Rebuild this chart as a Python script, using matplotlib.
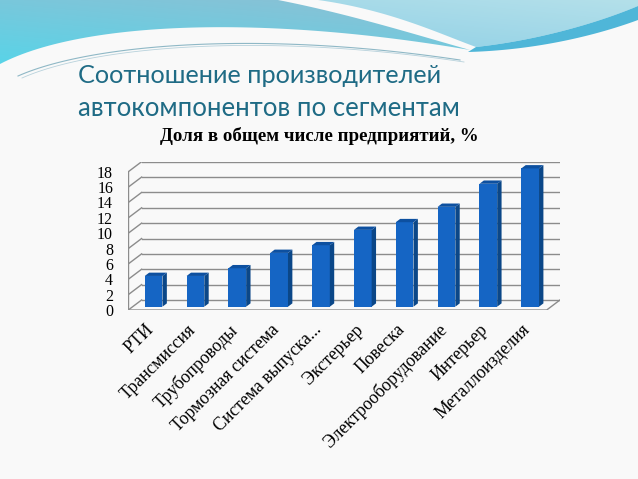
import numpy as np
import matplotlib.pyplot as plt
from matplotlib.patches import Polygon

categories = ['РТИ', 'Трансмиссия', 'Трубопроводы', 'Тормозная система',
              'Система выпуска...', 'Экстерьер', 'Повеска',
              'Электрооборудование', 'Интерьер', 'Металлоизделия']
shares = [4, 4, 5, 7, 8, 10, 11, 13, 16, 18]
yticks = list(range(0, 19, 2))

W, H = 638, 479
fig = plt.figure(figsize=(6.38, 4.79), dpi=100)
fig.patch.set_facecolor('#f9f9f9')


def bez(p0, p1, p2, p3, n=60):
    t = np.linspace(0, 1, n)[:, None]
    p0, p1, p2, p3 = map(np.array, (p0, p1, p2, p3))
    return (1 - t) ** 3 * p0 + 3 * (1 - t) ** 2 * t * p1 + 3 * (1 - t) * t ** 2 * p2 + t ** 3 * p3


def grad_fill(ax, verts, c_top_left, c_bottom, extent):
    poly = Polygon(verts, closed=True, facecolor='none', edgecolor='none')
    ax.add_patch(poly)
    x0, x1, y0, y1 = extent
    gx, gy = np.meshgrid(np.linspace(0, 1, 200), np.linspace(0, 1, 60))
    t = np.clip(0.6 * gy + 0.4 * (1 - gx), 0, 1)[..., None]
    img = (1 - t) * np.array(c_top_left) + t * np.array(c_bottom)
    im = ax.imshow(img, extent=(x0, x1, y1, y0), origin='upper', aspect='auto', zorder=1)
    im.set_clip_path(poly)


def rgb(h):
    h = h.lstrip('#')
    return [int(h[i:i + 2], 16) / 255 for i in (0, 2, 4)]


# slide background decoration
bg = fig.add_axes([0, 0, 1, 1], zorder=0)
bg.set_xlim(0, W)
bg.set_ylim(H, 0)
bg.axis('off')

wave_top = bez((0, 64), (80, 22), (260, 14), (470, 50))
stripe_left = bez((278, 0), (350, 14), (420, 36), (470, 50))
left_verts = np.vstack([[(0, 0)], stripe_left, wave_top[::-1]])
grad_fill(bg, left_verts, rgb('#8fbfd3'), rgb('#58d4e8'), (0, 480, 0, 66))

stripe_right = bez((318, 0), (390, 10), (440, 34), (476, 47))
ribbon_top = bez((476, 47), (540, 40), (600, 22), (638, 6))
right_verts = np.vstack([stripe_right, ribbon_top, [(638, 0)]])
grad_fill(bg, right_verts, rgb('#b4e0ea'), rgb('#8fd0e6'), (300, 638, 0, 52))

ribbon_bot = bez((468, 52), (540, 50), (600, 34), (638, 20))
ribbon = np.vstack([ribbon_top, ribbon_bot[::-1]])
bg.add_patch(Polygon(ribbon, closed=True, facecolor='#4fb6d8', edgecolor='none', zorder=2))
thin = bez((18, 76), (90, 44), (260, 30), (460, 60))
bg.plot(thin[:, 0], thin[:, 1], color='#8fb8c6', lw=0.8, zorder=2)
bg.plot(thin[:, 0] + 4, thin[:, 1] + 2, color='#b8d2dc', lw=0.6, zorder=2)

# slide title
title_color = '#1f6b85'
fig.text(78 / W, 1 - 83 / H, 'Соотношение производителей', fontsize=18.2,
         family='Lato', color=title_color, va='baseline')
fig.text(78 / W, 1 - 116 / H, 'автокомпонентов по сегментам', fontsize=18.5,
         family='Lato', color=title_color, va='baseline')
fig.text(319 / W, 1 - 136 / H, 'Доля в общем числе предприятий, %', fontsize=13.6,
         family='Liberation Serif', fontweight='bold', ha='center', va='center')

# chart area (front plane of the floor = axes)
ddx, ddy = 0.318, 1.307        # depth of the 3D box in data units
f0, f1 = 0.33, 0.66            # bar depth range
w = 0.423
ax = fig.add_axes([128.3 / W, (H - 310) / H, 431.7 / W, 148.3 / H])
ax.set_xlim(-0.5, 9.5 + ddx)
ax.set_ylim(0, 18 + ddy)
ax.patch.set_alpha(0)
for s in ax.spines.values():
    s.set_visible(False)

grid_c = '#8c8c8c'
for v in yticks:
    ax.plot([-0.5 + ddx, 9.5 + ddx], [v + ddy, v + ddy], color=grid_c, lw=1, zorder=1)
    ax.plot([-0.5, -0.5 + ddx], [v, v + ddy], color=grid_c, lw=1, zorder=1)
ax.plot([-0.5, -0.5], [0, 18], color=grid_c, lw=1, zorder=1)
ax.plot([-0.5, 9.5, 9.5 + ddx], [0, 0, ddy], color=grid_c, lw=1, zorder=1)

x = np.arange(len(categories))
ax.bar(x + f0 * ddx, shares, width=w, bottom=f0 * ddy, color='#1565c4', zorder=3)
for xi, v in zip(x, shares):
    l = xi - w / 2 + f0 * ddx
    r = xi + w / 2 + f0 * ddx
    b = f0 * ddy
    t = v + f0 * ddy
    sx, sy = (f1 - f0) * ddx, (f1 - f0) * ddy
    ax.add_patch(Polygon([(r, b), (r + sx, b + sy), (r + sx, t + sy), (r, t)],
                         closed=True, facecolor='#0b4788', edgecolor='none', zorder=3, clip_on=False))
    ax.add_patch(Polygon([(l, t), (r, t), (r + sx, t + sy), (l + sx, t + sy)],
                         closed=True, facecolor='#0d50a0', edgecolor='none', zorder=3, clip_on=False))

ax.set_yticks(yticks)
ax.set_yticklabels([str(v) for v in yticks], family='Liberation Serif', fontsize=11.5)
ax.set_xticks(x - 0.1)
ax.set_xticklabels(categories, family='Liberation Serif', fontsize=12.8,
                   rotation=45, ha='right', va='top', rotation_mode='anchor')
ax.tick_params(axis='y', length=0, pad=11)
ax.tick_params(axis='x', length=0, pad=8)

fig.savefig('out.png', dpi=100, facecolor=fig.get_facecolor())
